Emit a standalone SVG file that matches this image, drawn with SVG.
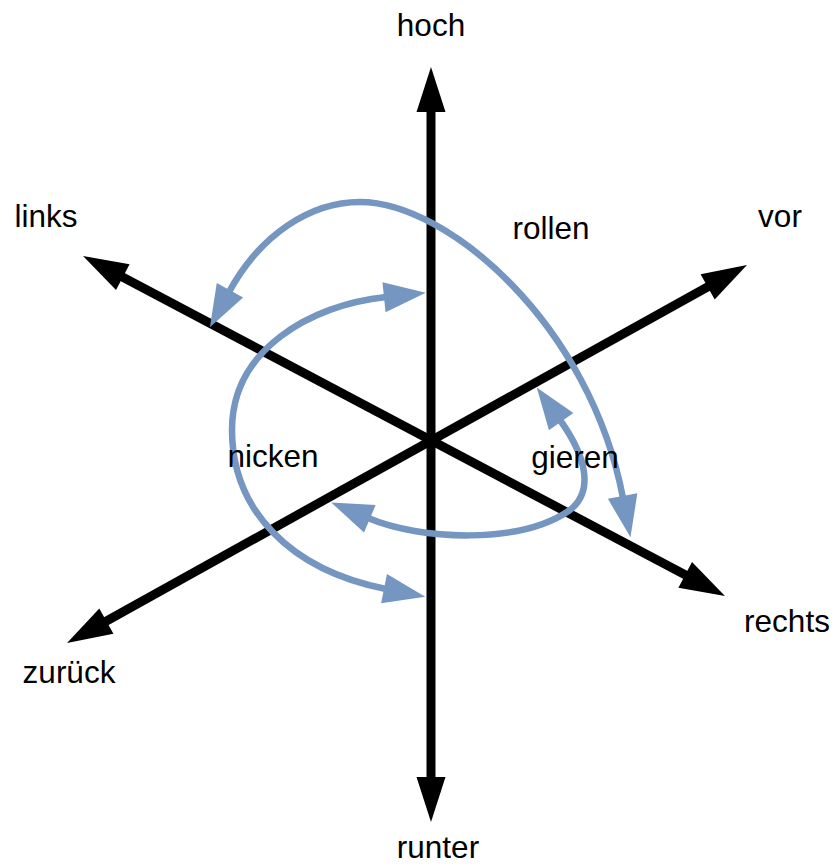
<svg xmlns="http://www.w3.org/2000/svg" width="835" height="864" viewBox="0 0 835 864">
<style>
.axis{stroke:#000;stroke-width:9;fill:none;marker-start:url(#ah);marker-end:url(#ah)}
.rot{stroke:#7496C0;stroke-width:6.5;fill:none;marker-start:url(#bh);marker-end:url(#bh)}
text{font-family:"Liberation Sans",Arial,sans-serif;font-size:31.5px;fill:#000;text-anchor:middle}
</style>
<defs>
<marker id="ah" markerUnits="userSpaceOnUse" orient="auto-start-reverse" markerWidth="50" markerHeight="30" refX="25" refY="14.5" viewBox="0 0 50 30" overflow="visible">
<path d="M0,0 L45,14.5 L0,29 z" fill="#000"/>
</marker>
<marker id="bh" markerUnits="userSpaceOnUse" orient="auto-start-reverse" markerWidth="50" markerHeight="32" refX="2" refY="15" viewBox="0 0 50 32" overflow="visible">
<path d="M0,0 L42,15 L0,30 z" fill="#7496C0"/>
</marker>
</defs>
<g id="connectors">
<line id="axis-vertical" class="axis" x1="431" y1="87" x2="431" y2="802"/>
<line id="axis-links-rechts" class="axis" x1="100.7" y1="265.4" x2="707.3" y2="586.6"/>
<line id="axis-zurueck-vor" class="axis" x1="84.5" y1="633.3" x2="729.5" y2="274.7"/>
<path id="rollen-arc" class="rot" d="M229,292 C260,235 310,202 360,202 C448,202 590,325 623,498"/>
<path id="nicken-arc" class="rot" d="M386,297 C310,305 232,350 232,430 C232,510 290,570 386,589"/>
<path id="gieren-arc" class="rot" d="M368,518 C420,540 520,545 570,510 C595,490 585,455 560,420"/>
</g>
<g id="hoch"><text x="431" y="36">hoch</text></g>
<g id="runter"><text x="438" y="858">runter</text></g>
<g id="links"><text x="46" y="227">links</text></g>
<g id="vor"><text x="780" y="227">vor</text></g>
<g id="rechts"><text x="787" y="632">rechts</text></g>
<g id="zurueck"><text x="69" y="683">zurück</text></g>
<g id="rollen"><text x="551" y="239">rollen</text></g>
<g id="nicken"><text x="273" y="467">nicken</text></g>
<g id="gieren"><text x="575" y="468">gieren</text></g>
</svg>
